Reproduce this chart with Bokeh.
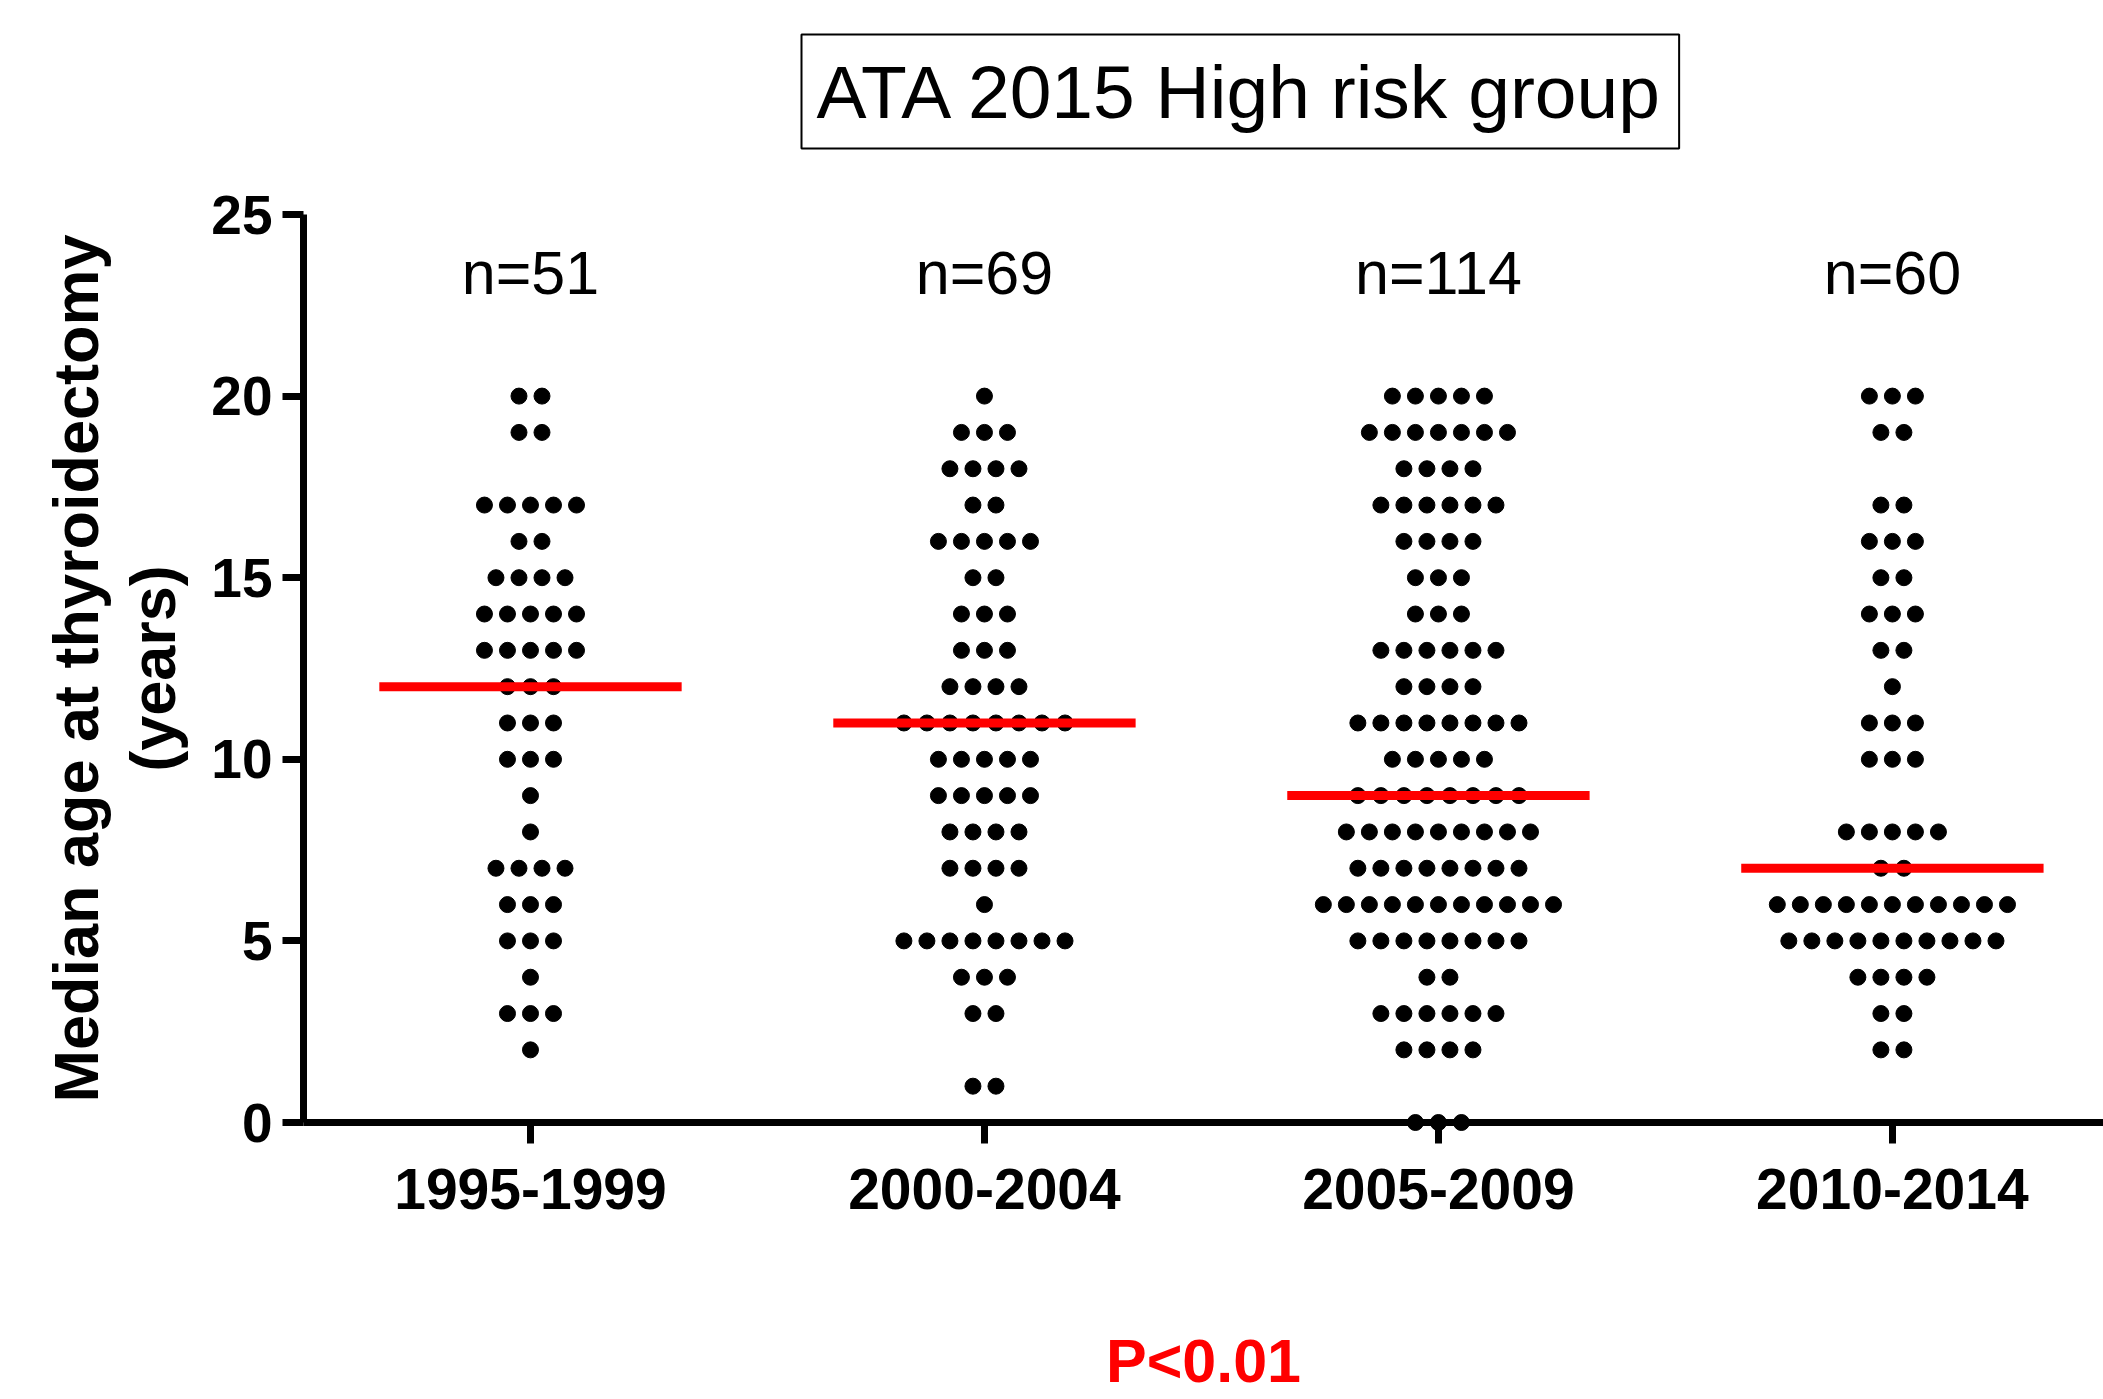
import numpy as np
from bokeh.plotting import figure
from bokeh.models import Range1d, FixedTicker, ColumnDataSource, Title
from bokeh.core.properties import value
from bokeh.embed import file_html
from bokeh.resources import INLINE

# ---------------- data ----------------
periods = ["1995-1999", "2000-2004", "2005-2009", "2010-2014"]
ages = list(range(0, 21))  # age at thyroidectomy (years)
# number of patients at each age 0..20, per period
counts_1995_1999 = [0, 0, 1, 3, 1, 3, 3, 4, 1, 1, 3, 3, 3, 5, 5, 4, 2, 5, 0, 2, 2]
counts_2000_2004 = [0, 2, 0, 2, 3, 8, 1, 4, 4, 5, 5, 8, 4, 3, 3, 2, 5, 2, 4, 3, 1]
counts_2005_2009 = [3, 0, 4, 6, 2, 8, 11, 8, 9, 8, 5, 8, 4, 6, 3, 3, 4, 6, 4, 7, 5]
counts_2010_2014 = [0, 0, 2, 2, 4, 10, 11, 2, 5, 0, 3, 3, 1, 2, 3, 2, 3, 2, 0, 2, 3]
title_text = "ATA 2015 High risk group"
y_label = "Median age at thyroidectomy\n(years)"
p_text = "P<0.01"
y_ticks = [0, 5, 10, 15, 20, 25]

all_counts = [counts_1995_1999, counts_2000_2004, counts_2005_2009, counts_2010_2014]
group_pos = [1, 2, 3, 4]

# ---------------- styles ----------------
FONT = "Liberation Sans"
DX = 0.0507          # horizontal spacing of dots (data units)
HALF_W = 0.333       # half width of the median bar
N_LABEL_Y = 23.4
RED = "#ff0000"

# beeswarm-like positions built from the counts
xs, ys = [], []
medians = []
n_texts = []
for g, cnts in zip(group_pos, all_counts):
    vals = []
    for a, k in zip(ages, cnts):
        for j in range(k):
            xs.append(g + (j - (k - 1) / 2.0) * DX)
            ys.append(a)
            vals.append(a)
    medians.append(float(np.median(vals)))
    n_texts.append("n=%d" % len(vals))

p = figure(width=2103, height=1399, title=None,
           x_range=Range1d(0.5, 4.465), y_range=Range1d(0, 25),
           output_backend="svg", toolbar_location=None,
           min_border_left=303, min_border_right=0,
           min_border_top=214, min_border_bottom=277)
p.grid.visible = False
p.outline_line_color = None
p.background_fill_color = "white"
p.border_fill_color = "white"


def make_title(text, size, standoff, padding, border):
    t = Title(text=text, text_font=FONT, text_font_size=size, text_font_style="normal",
              text_color="black", align="left")
    if border:
        t.border_line_color = "black"
        t.border_line_width = 2
        t.background_fill_color = "white"
    for attr, val in (("offset", 498), ("standoff", standoff), ("padding", padding)):
        try:
            setattr(t, attr, val)
        except Exception:
            pass
    return t


# blank spacer between the frame and the boxed title, then the boxed title
p.add_layout(make_title(" ", "20px", 42, 0, False), "above")
p.add_layout(make_title(title_text, "75px", 0, 15, True), "above")

# axes
p.xaxis.ticker = FixedTicker(ticks=group_pos)
p.xaxis.major_label_overrides = {g: lab for g, lab in zip(group_pos, periods)}
p.yaxis.ticker = FixedTicker(ticks=y_ticks)

for ax in (p.xaxis, p.yaxis):
    ax.axis_line_width = 7
    ax.axis_line_color = "black"
    ax.major_tick_line_width = 7
    ax.major_tick_line_color = "black"
    ax.major_tick_out = 21
    ax.major_tick_in = 0
    ax.minor_tick_line_color = None
    ax.major_label_text_font = FONT
    ax.major_label_text_font_style = "bold"
    ax.major_label_text_color = "black"

p.xaxis.major_label_text_font_size = "57px"
p.xaxis.major_label_standoff = 25
p.yaxis.major_label_text_font_size = "55px"
p.yaxis.major_label_standoff = 10

p.yaxis.axis_label = y_label
p.yaxis.axis_label_text_font = FONT
p.yaxis.axis_label_text_font_style = "bold"
p.yaxis.axis_label_text_font_size = "63px"
p.yaxis.axis_label_text_line_height = 1.1
p.yaxis.axis_label_text_color = "black"
p.yaxis.axis_label_standoff = 20

# p-value shown centred under the category labels
p.xaxis.axis_label = p_text
p.xaxis.axis_label_text_font = FONT
p.xaxis.axis_label_text_font_style = "bold"
p.xaxis.axis_label_text_font_size = "61px"
p.xaxis.axis_label_text_color = RED
p.xaxis.axis_label_standoff = 115

# dots (overlay level so the dots on the zero line are not cut by the frame)
p.scatter(xs, ys, size=16, marker="circle", fill_color="black", line_color="black",
          level="overlay")

# median bars
p.segment(x0=[g - HALF_W for g in group_pos], y0=medians,
          x1=[g + HALF_W for g in group_pos], y1=medians,
          line_color=RED, line_width=9, level="overlay")

# n labels
src = ColumnDataSource(dict(x=group_pos, y=[N_LABEL_Y] * len(group_pos), t=n_texts))
p.text(x="x", y="y", text="t", source=src, text_font=value(FONT),
       text_font_size="61px", text_align="center", text_baseline="middle",
       text_color="black")

open("out.html", "w").write(file_html(p, INLINE))
